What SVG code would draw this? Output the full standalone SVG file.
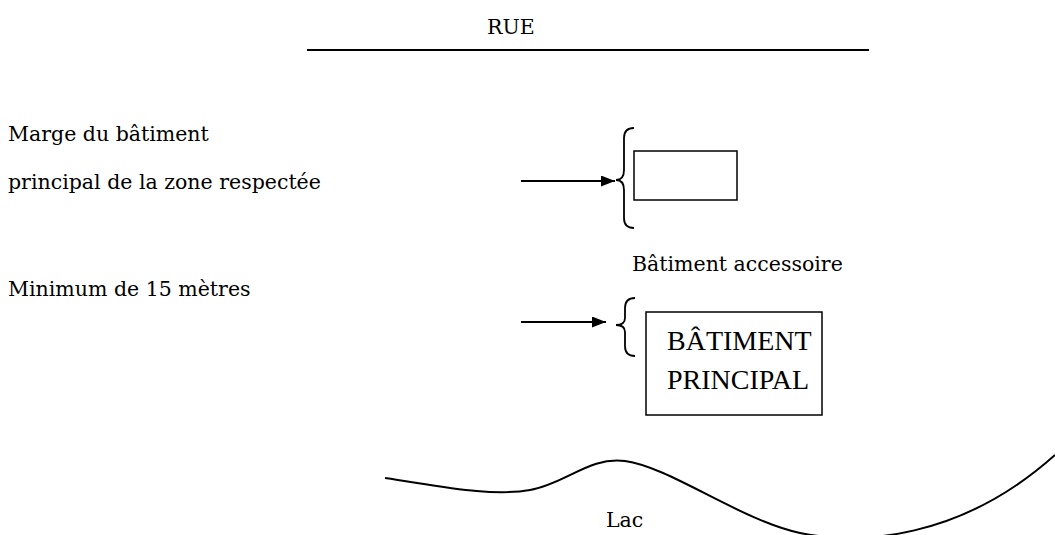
<svg xmlns="http://www.w3.org/2000/svg" width="1055" height="535" viewBox="0 0 1055 535">
<style>
.t{font-family:"DejaVu Serif","Liberation Serif",serif;font-size:20.5px;fill:#000}
.tm{font-family:"Liberation Serif","Times New Roman",serif;font-size:28px;fill:#000}
.ln{stroke:#000;stroke-width:2;fill:none}
.br{stroke:#000;stroke-width:1.8;fill:none}
.bx{stroke:#000;stroke-width:1.5;fill:#fff}
</style>
<defs>
<marker id="ah" markerWidth="14" markerHeight="11" refX="14" refY="5.5" orient="auto" markerUnits="userSpaceOnUse" viewBox="0 0 14 11">
<path d="M0,0 L14,5.5 L0,11 z" fill="#000"/>
</marker>
</defs>
<rect width="1055" height="535" fill="#fff"/>
<g id="rue">
<text class="t" x="487" y="34">RUE</text>
<line class="ln" x1="307" y1="50" x2="869" y2="50"/>
</g>
<g id="label-marge">
<text class="t" x="8" y="141">Marge du bâtiment</text>
<text class="t" x="8" y="189">principal de la zone respectée</text>
</g>
<g id="label-minimum">
<text class="t" x="8" y="296">Minimum de 15 mètres</text>
</g>
<g id="batiment-accessoire">
<path class="br" d="M634,128 Q624,128 624,138 L624,170 Q624,180 616,180 Q624,180 624,190 L624,218 Q624,228 634,228"/>
<rect class="bx" x="634" y="151" width="103" height="49"/>
<text class="t" x="632" y="271">Bâtiment accessoire</text>
</g>
<g id="batiment-principal">
<path class="br" d="M635,298 Q625,298 625,308 L625,318 Q625,325 616,325 Q625,325 625,332 L625,346 Q625,356 635,356"/>
<rect class="bx" x="646" y="312" width="176" height="103"/>
<text class="tm" x="667" y="350">BÂTIMENT</text>
<text class="tm" x="667" y="389">PRINCIPAL</text>
</g>
<g id="lac">
<path class="ln" d="M385,478 C440,486 490,497 530,490 C565,484 590,456 625,461 C670,467 740,520 800,533 C860,545 960,540 1055,455"/>
<text class="t" x="606" y="527">Lac</text>
</g>
<g id="connectors">
<line class="ln" x1="521" y1="181" x2="615" y2="181" marker-end="url(#ah)"/>
<line class="ln" x1="521" y1="322" x2="606" y2="322" marker-end="url(#ah)"/>
</g>
</svg>
